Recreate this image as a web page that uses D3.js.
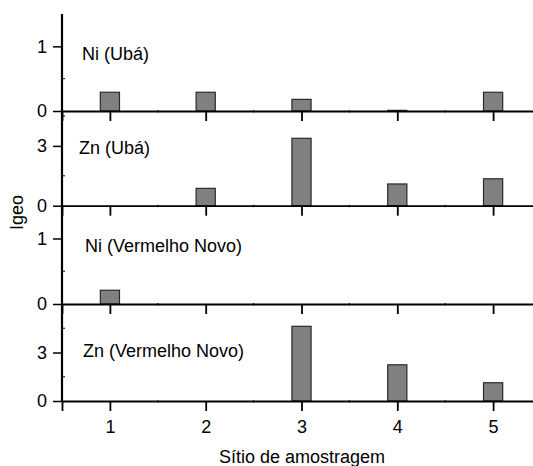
<!DOCTYPE html>
<html>
<head>
<meta charset="utf-8">
<script src="https://cdn.jsdelivr.net/npm/d3@7"></script>
<style>
  body { margin: 0; background: #fff; }
  text { font-family: "Liberation Sans", Arial, sans-serif; fill: #000; }
</style>
</head>
<body>
<div id="chart"></div>
<script>
// sampling sites and Igeo values per panel
const sites = [1, 2, 3, 4, 5];
const niUba = [0.29, 0.29, 0.18, 0.01, 0.29];
const znUba = [0, 0.87, 3.38, 1.09, 1.35];
const niVermelho = [0.21, 0, 0, 0, 0];
const znVermelho = [0, 0, 4.62, 2.24, 1.13];

const panelLabels = ['Ni (Ubá)', 'Zn (Ubá)', 'Ni (Vermelho Novo)', 'Zn (Vermelho Novo)'];
const panelSeries = [niUba, znUba, niVermelho, znVermelho];
const yMax = [1.5, 4.75, 1.5, 6];
const yMajor = [[0, 1], [0, 3], [0, 1], [0, 3]];
const yMinor = [[0.5], [1.5, 4.5], [0.5], [1.5, 4.5]];
const xMinor = [1.5, 2.5, 3.5, 4.5];

const svgWidth = 533, svgHeight = 466;
const left = 62;
const bounds = [14, 111, 205.7, 304, 401];
const labelX = [82, 79, 85, 83];
const labelY = [59.5, 153.5, 251.5, 356.5];
const fontSize = '18px';
const fontFam = '"Liberation Sans", Arial, sans-serif';

const svg = d3.select('#chart')
    .append('svg')
    .attr('width', svgWidth)
    .attr('height', svgHeight);

const x = d3.scaleLinear().domain([0.5, 5.5]).range([left, 541]);
const barW = x(1.2) - x(1);

panelSeries.forEach((vals, i) => {
    const y = d3.scaleLinear().domain([0, yMax[i]]).range([bounds[i + 1], bounds[i]]);
    const g = svg.append('g');

    // bars
    g.selectAll('rect')
        .data(vals)
        .enter().append('rect')
        .attr('x', (d, j) => x(sites[j]) - barW / 2)
        .attr('width', barW)
        .attr('y', d => y(d))
        .attr('height', d => y(0) - y(d))
        .attr('fill', d => d > 0 ? '#808080' : 'none')
        .attr('stroke', d => d > 0 ? '#2a2a2a' : 'none')
        .attr('stroke-width', 1.2);

    // left axis
    const ya = g.append('g')
        .attr('transform', 'translate(' + left + ',0)')
        .call(d3.axisLeft(y).tickValues(yMajor[i]).tickSize(9).tickPadding(6).tickFormat(d3.format('d')));
    ya.select('.domain').remove();
    ya.selectAll('.tick line').attr('stroke-width', 1.5);
    ya.selectAll('.tick text')
        .style('font-size', fontSize)
        .style('font-family', fontFam);

    g.selectAll('.yminor')
        .data(yMinor[i])
        .enter().append('line')
        .attr('x1', left).attr('x2', left + 3)
        .attr('y1', d => y(d)).attr('y2', d => y(d))
        .attr('stroke', '#000').attr('stroke-width', 1);

    // bottom axis of the panel
    const xa = g.append('g')
        .attr('transform', 'translate(0,' + y(0) + ')')
        .call(d3.axisBottom(x).tickValues(sites).tickSize(10).tickPadding(9)
            .tickFormat(i === 3 ? d3.format('d') : ''));
    xa.select('.domain').attr('stroke-width', 1.8);
    xa.selectAll('.tick line').attr('stroke-width', 1.8);
    xa.selectAll('.tick text')
        .style('font-size', fontSize)
        .style('font-family', fontFam);

    g.selectAll('.xminor')
        .data(xMinor)
        .enter().append('line')
        .attr('x1', d => x(d)).attr('x2', d => x(d))
        .attr('y1', y(0) - 1).attr('y2', y(0) + 1.5)
        .attr('stroke', '#000').attr('stroke-width', 1);

    g.append('text')
        .attr('x', labelX[i])
        .attr('y', labelY[i])
        .style('font-size', fontSize)
        .text(panelLabels[i]);
});

// vertical axis line through all panels
svg.append('line')
    .attr('x1', left).attr('x2', left)
    .attr('y1', bounds[0]).attr('y2', bounds[4] + 1)
    .attr('stroke', '#000').attr('stroke-width', 2.2);

svg.append('text')
    .attr('transform', 'translate(22.5,212.5) rotate(-90)')
    .attr('text-anchor', 'middle')
    .style('font-size', fontSize)
    .text('Igeo');

svg.append('text')
    .attr('x', 302)
    .attr('y', 463)
    .attr('text-anchor', 'middle')
    .style('font-size', fontSize)
    .text('Sítio de amostragem');
</script>
</body>
</html>
